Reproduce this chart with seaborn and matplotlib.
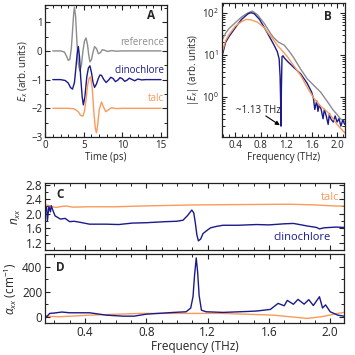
import matplotlib
matplotlib.use("Agg")
import matplotlib.pyplot as plt
import seaborn as sns
import numpy as np
from matplotlib.ticker import MultipleLocator, LogLocator, NullFormatter

# ---- Panel A: time-domain waveforms (offset traces) ----
t_ref = [1.0, 2.0, 2.5, 2.8, 3.0, 3.2, 3.4, 3.55, 3.7, 3.8, 3.95, 4.1, 4.3, 4.5, 4.7,
         4.9, 5.1, 5.3, 5.5, 5.65, 5.8, 6.0, 6.2, 6.4, 6.65, 6.9, 7.15, 7.4, 7.7, 8.1,
         8.6, 9.2, 10.0, 11.0, 12.0, 13.0, 14.0, 15.0]
e_ref = [0.0, 0.0, -0.04, -0.2, -0.33, -0.3, 0.1, 0.7, 1.3, 1.52, 1.2, 0.4, -0.45, -0.7,
         -0.5, 0.0, 0.35, 0.45, 0.2, -0.15, -0.38, -0.3, -0.05, 0.15, 0.08, -0.1, -0.06,
         0.04, 0.02, -0.02, 0.01, -0.01, 0.0, 0.0, 0.0, 0.0, 0.0, 0.0]

t_cli = [1.0, 2.0, 2.6, 3.0, 3.3, 3.55, 3.8, 4.0, 4.15, 4.3, 4.45, 4.6, 4.8, 4.95, 5.15,
         5.4, 5.6, 5.8, 6.0, 6.2, 6.4, 6.65, 6.9, 7.1, 7.3, 7.6, 7.9, 8.2, 8.5, 8.8, 9.1,
         9.4, 9.7, 10.0, 10.3, 10.6, 10.9, 11.2, 11.6, 12.0, 12.5, 13.0, 14.0, 15.0]
e_cli = [-1.0, -1.0, -1.03, -1.12, -1.28, -1.33, -1.1, -0.55, -0.1, 0.15, -0.2, -0.9, -1.6,
         -1.88, -1.6, -0.9, -0.6, -0.52, -0.75, -1.1, -1.27, -1.15, -0.95, -0.84, -0.85,
         -1.0, -1.1, -1.02, -0.92, -0.96, -1.07, -1.02, -0.93, -0.97, -1.06, -1.02, -0.95,
         -0.99, -1.04, -0.98, -1.01, -1.0, -1.0, -1.0]

t_talc = [1.0, 2.0, 3.0, 3.8, 4.3, 4.6, 4.9, 5.1, 5.3, 5.5, 5.7, 5.9, 6.1, 6.3, 6.5, 6.65,
          6.8, 7.0, 7.3, 7.55, 7.85, 8.2, 8.6, 9.2, 10.0, 12.0, 14.0, 15.0]
e_talc = [-2.0, -2.0, -2.0, -2.02, -2.12, -2.25, -2.27, -2.1, -1.7, -1.2, -0.95, -0.9,
          -1.3, -2.1, -2.7, -2.85, -2.6, -2.05, -1.78, -1.95, -2.12, -2.05, -1.98, -2.01,
          -2.0, -2.0, -2.0, -2.0]

# ---- Panel B: spectral amplitude ----
f_ref = [0.19, 0.25, 0.3, 0.4, 0.5, 0.6, 0.67, 0.75, 0.86, 0.95, 1.0, 1.08, 1.17, 1.25,
         1.32, 1.43, 1.53, 1.63, 1.74, 1.84, 1.94, 2.0, 2.05, 2.12]
a_ref = [22, 33, 42, 58, 80, 100, 110, 90, 55, 33, 26, 20, 17, 12, 8.5, 4.5, 2.7, 1.9,
         1.3, 0.8, 0.48, 0.38, 0.3, 0.26]

f_cli = [0.19, 0.25, 0.3, 0.4, 0.5, 0.6, 0.65, 0.7, 0.78, 0.86, 0.95, 1.01, 1.06, 1.09,
         1.105, 1.115, 1.12, 1.125, 1.135, 1.15, 1.17, 1.22, 1.32, 1.43, 1.53, 1.6, 1.63,
         1.65, 1.68, 1.7, 1.72, 1.75, 1.78, 1.8, 1.83, 1.86, 1.88, 1.9, 1.94, 1.97, 2.0,
         2.03, 2.06, 2.09, 2.12]
a_cli = [9, 20, 27, 44, 70, 95, 101, 95, 70, 44, 25, 17, 12, 8, 3, 0.6, 0.2, 1.5, 9, 9.5,
         8.5, 7, 5, 3.5, 2.1, 1.3, 0.9, 0.5, 0.8, 0.45, 0.65, 0.5, 0.3, 0.5, 0.35, 0.22,
         0.4, 0.3, 0.25, 0.35, 0.25, 0.3, 0.2, 0.28, 0.22]

f_talc = [0.19, 0.25, 0.3, 0.4, 0.5, 0.57, 0.65, 0.75, 0.86, 0.91, 1.0, 1.06, 1.15, 1.22,
          1.32, 1.43, 1.53, 1.63, 1.74, 1.84, 1.94, 2.0, 2.05, 2.12]
a_talc = [11, 22, 30, 48, 62, 70, 68, 60, 44, 34, 23, 17, 12, 9, 5.5, 3.2, 1.7, 0.95,
          0.6, 0.45, 0.3, 0.22, 0.18, 0.14]

# ---- Panel C: refractive index ----
f_n = [0.14, 0.15, 0.155, 0.165, 0.175, 0.18, 0.19, 0.205, 0.24, 0.27, 0.3, 0.33, 0.37,
       0.43, 0.54, 0.62, 0.71, 0.8, 0.93, 1.0, 1.04, 1.07, 1.097, 1.11, 1.12, 1.13, 1.14,
       1.155, 1.17, 1.2, 1.22, 1.26, 1.3, 1.4, 1.52, 1.6, 1.7, 1.76, 1.8, 1.85, 1.88,
       1.91, 1.93, 1.96, 2.0, 2.04, 2.09]
n_cli = [2.05, 2.17, 1.8, 2.2, 2.05, 2.22, 2.1, 1.94, 1.85, 1.87, 1.78, 1.79, 1.76, 1.71,
         1.71, 1.7, 1.74, 1.75, 1.78, 1.79, 1.82, 1.95, 2.1, 2.02, 1.75, 1.42, 1.25, 1.3,
         1.45, 1.55, 1.61, 1.65, 1.68, 1.68, 1.7, 1.69, 1.72, 1.73, 1.7, 1.66, 1.64, 1.62,
         1.58, 1.61, 1.62, 1.63, 1.62]

f_n_talc = [0.14, 0.15, 0.18, 0.21, 0.25, 0.28, 0.32, 0.43, 0.6, 0.76, 1.1, 1.4, 1.74,
            1.9, 2.04, 2.09]
n_talc = [2.2, 2.24, 2.2, 2.17, 2.2, 2.21, 2.18, 2.19, 2.19, 2.21, 2.24, 2.25, 2.26,
          2.24, 2.21, 2.21]

# ---- Panel D: absorption coefficient ----
f_a = [0.14, 0.15, 0.17, 0.2, 0.25, 0.3, 0.43, 0.54, 0.65, 0.72, 0.8, 0.98, 1.06, 1.09,
       1.105, 1.115, 1.126, 1.135, 1.145, 1.16, 1.19, 1.3, 1.45, 1.52, 1.61, 1.66, 1.7,
       1.72, 1.76, 1.79, 1.83, 1.86, 1.89, 1.93, 1.95, 1.97, 2.0, 2.05, 2.09]
alpha_cli = [10, 0, 27, 30, 38, 32, 32, 13, 5, 5, 21, 35, 40, 70, 160, 330, 470, 360, 170,
             53, 40, 35, 42, 46, 59, 107, 88, 131, 100, 139, 101, 137, 90, 160, 70, 95,
             40, 13, 5]

f_a_talc = [0.14, 0.15, 0.23, 0.43, 0.76, 1.06, 1.3, 1.63, 1.85, 1.94, 2.05, 2.09]
alpha_talc = [5, 5, 0, 13, 27, 27, 27, 13, -13, 0, 27, 35]

C_REF = "#8c8c8c"
C_CLI = "#1a1a8c"
C_TALC = "#fb9a5a"

sns.set_theme(style="ticks")
plt.rcParams["font.family"] = ["Open Sans", "DejaVu Sans"]
plt.rcParams["mathtext.fontset"] = "custom"
plt.rcParams["mathtext.rm"] = "Open Sans"
plt.rcParams["mathtext.it"] = "Open Sans:italic"
plt.rcParams["axes.linewidth"] = 0.9
plt.rcParams["axes.edgecolor"] = "#222222"


def style_axes(ax, fs):
    ax.tick_params(which="both", direction="in", top=True, right=True, labelsize=fs,
                   colors="#222222", pad=2)
    ax.tick_params(which="major", length=3.5, width=0.8)
    ax.tick_params(which="minor", length=2, width=0.7)


fig = plt.figure(figsize=(3.55, 3.55), dpi=100)
axA = fig.add_axes([0.127, 0.614, 0.344, 0.372])
axB = fig.add_axes([0.625, 0.614, 0.346, 0.377])
axC = fig.add_axes([0.127, 0.296, 0.842, 0.189])
axD = fig.add_axes([0.127, 0.090, 0.842, 0.194])

lw = 1.0
fs_small = 7
fs_big = 8.5

# A
sns.lineplot(x=t_ref, y=e_ref, ax=axA, color=C_REF, lw=lw, sort=False, estimator=None)
sns.lineplot(x=t_cli, y=e_cli, ax=axA, color=C_CLI, lw=lw, sort=False, estimator=None)
sns.lineplot(x=t_talc, y=e_talc, ax=axA, color=C_TALC, lw=lw, sort=False, estimator=None)
axA.set_xlim(0, 15.8)
axA.set_ylim(-3.0, 1.6)
axA.xaxis.set_major_locator(MultipleLocator(5))
axA.xaxis.set_minor_locator(MultipleLocator(1))
axA.yaxis.set_major_locator(MultipleLocator(1))
axA.yaxis.set_minor_locator(MultipleLocator(0.5))
axA.set_xlabel("Time (ps)", fontsize=fs_small, labelpad=1)
axA.set_ylabel(r"$E_x$ (arb. units)", fontsize=fs_small, labelpad=1)
axA.text(15.4, 0.29, "reference", color=C_REF, ha="right", va="center", fontsize=fs_small)
axA.text(15.4, -0.69, "clinochlore", color=C_CLI, ha="right", va="center", fontsize=fs_small)
axA.text(15.4, -1.67, "talc", color=C_TALC, ha="right", va="center", fontsize=fs_small)
axA.text(0.87, 0.92, "A", transform=axA.transAxes, fontsize=8.5, fontweight="bold",
         ha="center", va="center")
style_axes(axA, fs_small)

# B
sns.lineplot(x=f_ref, y=a_ref, ax=axB, color=C_REF, lw=lw, sort=False, estimator=None)
sns.lineplot(x=f_cli, y=a_cli, ax=axB, color=C_CLI, lw=lw, sort=False, estimator=None)
sns.lineplot(x=f_talc, y=a_talc, ax=axB, color=C_TALC, lw=lw, sort=False, estimator=None)
axB.set_yscale("log")
axB.set_xlim(0.19, 2.12)
axB.set_ylim(0.11, 170)
axB.set_yticks([1, 10, 100])
axB.yaxis.set_minor_locator(LogLocator(base=10, subs=np.arange(2, 10)))
axB.yaxis.set_minor_formatter(NullFormatter())
axB.xaxis.set_major_locator(MultipleLocator(0.4))
axB.xaxis.set_minor_locator(MultipleLocator(0.1))
axB.set_xlabel("Frequency (THz)", fontsize=fs_small, labelpad=1)
axB.set_ylabel(r"$|E_x|$ (arb. units)", fontsize=fs_small, labelpad=1)
axB.text(0.76, 0.48, "~1.13 THz", fontsize=fs_small, ha="center", va="center")
axB.annotate("", xy=(1.10, 0.21), xytext=(0.88, 0.35),
             arrowprops=dict(arrowstyle="-|>", color="black", lw=0.8, shrinkA=0,
                             shrinkB=0, mutation_scale=6))
axB.text(0.867, 0.90, "B", transform=axB.transAxes, fontsize=8.5, fontweight="bold",
         ha="center", va="center")
style_axes(axB, fs_small)

# C
sns.lineplot(x=f_n_talc, y=n_talc, ax=axC, color=C_TALC, lw=lw, sort=False, estimator=None)
sns.lineplot(x=f_n, y=n_cli, ax=axC, color=C_CLI, lw=lw, sort=False, estimator=None)
axC.set_xlim(0.14, 2.09)
axC.set_ylim(1.0, 2.85)
axC.xaxis.set_major_locator(MultipleLocator(0.4))
axC.xaxis.set_minor_locator(MultipleLocator(0.1))
axC.yaxis.set_major_locator(MultipleLocator(0.4))
axC.yaxis.set_minor_locator(MultipleLocator(0.2))
axC.set_xticklabels([])
axC.set_ylabel(r"$n_{xx}$", fontsize=fs_big, labelpad=2)
axC.text(2.06, 2.44, "talc", color=C_TALC, ha="right", va="center", fontsize=8)
axC.text(2.0, 1.34, "clinochlore", color=C_CLI, ha="right", va="center", fontsize=8)
axC.text(0.05, 0.82, "C", transform=axC.transAxes, fontsize=8.5, fontweight="bold",
         ha="center", va="center")
style_axes(axC, fs_big)

# D
sns.lineplot(x=f_a_talc, y=alpha_talc, ax=axD, color=C_TALC, lw=lw, sort=False, estimator=None)
sns.lineplot(x=f_a, y=alpha_cli, ax=axD, color=C_CLI, lw=lw, sort=False, estimator=None)
axD.set_xlim(0.14, 2.09)
axD.set_ylim(-50, 500)
axD.xaxis.set_major_locator(MultipleLocator(0.4))
axD.xaxis.set_minor_locator(MultipleLocator(0.1))
axD.yaxis.set_major_locator(MultipleLocator(200))
axD.yaxis.set_minor_locator(MultipleLocator(100))
axD.set_xlabel("Frequency (THz)", fontsize=fs_big, labelpad=1)
axD.set_ylabel(r"$\alpha_{xx}$ (cm$^{-1}$)", fontsize=fs_big, labelpad=2)
axD.text(0.05, 0.80, "D", transform=axD.transAxes, fontsize=8.5, fontweight="bold",
         ha="center", va="center")
style_axes(axD, fs_big)

fig.savefig("out.png", dpi=100)
